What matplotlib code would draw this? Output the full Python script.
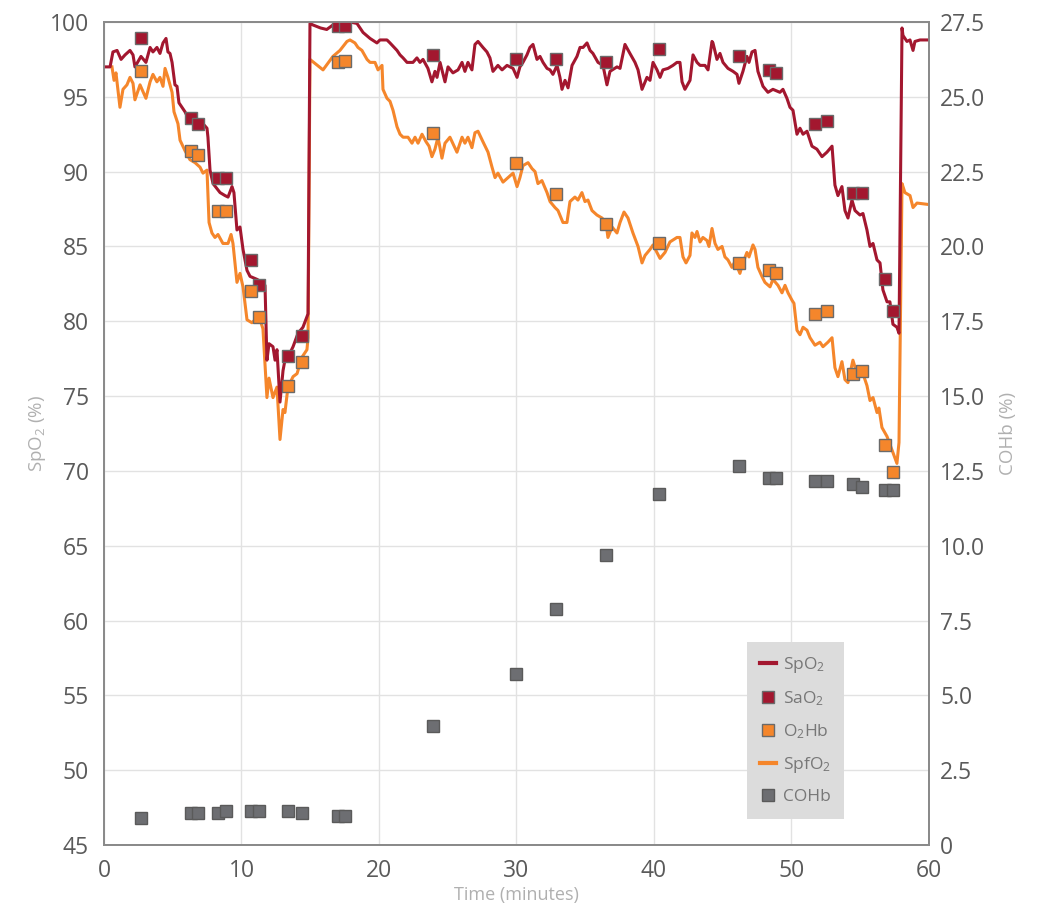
import matplotlib
matplotlib.use("Agg")
import matplotlib.pyplot as plt
from matplotlib.lines import Line2D
import numpy as np

plt.rcParams["font.family"] = ["Open Sans", "DejaVu Sans"]
plt.rcParams["mathtext.fontset"] = "custom"
plt.rcParams["mathtext.rm"] = "Open Sans"

# continuous monitor traces: (time in minutes, %)
spo2 = [
    (0, 97.0), (0.44, 97.0), (0.65, 98.0), (0.95, 98.1), (1.24, 97.5), (1.53, 97.8),
    (1.89, 98.1), (2.11, 97.8), (2.25, 97.0), (2.69, 97.7), (3.05, 97.3), (3.35, 98.3),
    (3.56, 98.0), (3.85, 98.3), (4.07, 97.9), (4.29, 98.6), (4.51, 98.9), (4.65, 98.0),
    (4.8, 97.9), (4.95, 97.3), (5.16, 95.8), (5.31, 95.7), (5.45, 94.6), (5.67, 94.3),
    (5.89, 94.0), (6.11, 93.6), (6.47, 93.4), (7.2, 93.2), (7.49, 92.9), (7.56, 92.3),
    (7.71, 90.1), (7.93, 89.2), (8.44, 88.6), (8.8, 88.4), (9.02, 88.3), (9.31, 89.0),
    (9.45, 88.6), (9.67, 86.1), (9.89, 86.3), (10.11, 84.8), (10.4, 83.4), (10.62, 83.0),
    (11.13, 82.8), (11.49, 82.6), (11.71, 82.4), (11.85, 77.4), (12.0, 78.5), (12.29, 78.3),
    (12.44, 77.4), (12.58, 78.1), (12.8, 74.6), (13.02, 76.7), (13.16, 77.4), (13.38, 77.6),
    (13.75, 78.3), (14.11, 79.2), (14.47, 79.6), (14.84, 80.5), (14.98, 99.9), (15.2, 99.8),
    (15.75, 99.6), (16.2, 99.5), (16.65, 99.8), (17.3, 99.9), (17.9, 100.0), (18.4, 99.9),
    (18.84, 99.3), (19.35, 98.9), (19.85, 98.6), (20.07, 98.8), (20.58, 98.8), (20.8, 98.6),
    (21.31, 98.1), (21.53, 97.8), (21.75, 97.6), (22.04, 97.3), (22.25, 97.3), (22.47, 97.3),
    (22.76, 97.6), (22.98, 97.3), (23.2, 97.5), (23.56, 96.9), (23.85, 96.0), (24.07, 96.7),
    (24.22, 96.3), (24.44, 97.3), (24.8, 96.0), (25.02, 97.0), (25.38, 96.6), (25.75, 96.8),
    (26.04, 97.3), (26.25, 96.7), (26.47, 97.3), (26.76, 96.8), (26.98, 98.5), (27.2, 98.7),
    (27.56, 98.3), (27.85, 98.0), (28.07, 97.6), (28.29, 96.7), (28.65, 97.1), (28.95, 96.8),
    (29.31, 97.1), (29.75, 96.9), (30.04, 96.3), (30.25, 97.0), (30.47, 97.3), (30.76, 97.8),
    (30.98, 98.3), (31.2, 98.5), (31.49, 97.5), (31.71, 97.7), (31.93, 97.3), (32.22, 96.9),
    (32.44, 96.8), (32.65, 96.5), (32.95, 97.1), (33.16, 96.3), (33.31, 95.5), (33.53, 96.1),
    (33.75, 95.6), (34.04, 97.1), (34.4, 97.7), (34.62, 98.3), (34.84, 98.3), (35.13, 98.6),
    (35.35, 98.1), (35.56, 97.9), (35.93, 97.3), (36.29, 97.1), (36.58, 95.8), (36.8, 96.7),
    (37.31, 97.0), (37.53, 96.9), (37.89, 98.5), (38.25, 97.9), (38.62, 97.3), (38.84, 96.8),
    (39.13, 95.5), (39.49, 96.3), (39.71, 96.1), (39.93, 97.3), (40.22, 96.8), (40.44, 96.3),
    (40.65, 96.8), (41.02, 96.9), (41.38, 97.1), (41.67, 97.3), (41.89, 97.3), (42.04, 96.0),
    (42.25, 95.5), (42.62, 96.1), (42.84, 97.8), (43.13, 97.3), (43.35, 97.1), (43.71, 97.1),
    (43.93, 96.8), (44.22, 98.7), (44.29, 98.6), (44.58, 97.5), (44.8, 97.9), (45.02, 97.3),
    (45.38, 96.9), (45.75, 96.7), (46.04, 96.5), (46.18, 95.9), (46.47, 96.7), (46.76, 97.7),
    (46.91, 97.3), (47.13, 98.0), (47.35, 98.1), (47.56, 96.7), (47.93, 95.7), (48.29, 95.3),
    (48.65, 95.5), (49.16, 95.3), (49.38, 95.5), (49.67, 94.9), (49.89, 94.3), (50.11, 94.1),
    (50.4, 92.5), (50.62, 92.9), (50.84, 92.5), (51.13, 92.7), (51.49, 91.7), (51.85, 91.5),
    (52.22, 91.0), (52.58, 91.3), (52.95, 91.7), (53.16, 89.1), (53.38, 88.4), (53.67, 89.0),
    (53.89, 87.4), (54.11, 86.9), (54.4, 88.1), (54.62, 87.4), (54.98, 87.1), (55.2, 87.2),
    (55.49, 86.1), (55.71, 85.0), (55.93, 85.2), (56.22, 84.1), (56.44, 83.9), (56.65, 82.1),
    (56.95, 81.3), (57.16, 81.3), (57.38, 79.8), (57.67, 79.6), (57.82, 79.2), (58.04, 99.6),
    (58.11, 99.1), (58.4, 98.7), (58.62, 98.8), (58.84, 98.1), (58.98, 98.7), (59.35, 98.8),
    (60.0, 98.8),
]

spfo2 = [
    (0.58, 97.0), (0.73, 96.1), (0.87, 96.6), (1.16, 94.3), (1.38, 95.5), (1.67, 95.8),
    (1.89, 96.3), (2.11, 95.9), (2.25, 94.8), (2.62, 95.8), (3.05, 94.9), (3.35, 96.0),
    (3.56, 96.5), (3.85, 96.0), (4.07, 96.3), (4.29, 95.7), (4.44, 96.9), (4.65, 96.3),
    (4.95, 95.3), (5.09, 94.0), (5.38, 93.2), (5.53, 92.1), (5.89, 91.4), (6.25, 90.8),
    (6.62, 90.6), (6.98, 90.3), (7.2, 89.9), (7.49, 90.1), (7.64, 86.6), (7.85, 85.9),
    (8.07, 85.6), (8.29, 85.8), (8.65, 85.2), (9.02, 85.2), (9.24, 85.8), (9.38, 85.2),
    (9.67, 82.6), (9.89, 83.2), (10.11, 82.3), (10.4, 80.1), (10.76, 79.9), (10.98, 80.1),
    (11.35, 80.1), (11.56, 79.5), (11.85, 74.9), (12.0, 76.2), (12.29, 74.9), (12.58, 75.6),
    (12.8, 72.1), (13.02, 74.1), (13.16, 73.9), (13.38, 75.6), (13.75, 76.3), (14.04, 76.5),
    (14.4, 77.6), (14.76, 78.1), (14.84, 78.9), (14.98, 97.5), (15.93, 96.8), (16.65, 97.7),
    (17.16, 98.1), (17.67, 98.7), (17.89, 98.8), (18.25, 98.6), (18.47, 98.3), (18.76, 98.1),
    (19.13, 97.5), (19.35, 97.3), (19.71, 97.3), (19.93, 96.8), (20.22, 97.1), (20.29, 95.5),
    (20.58, 94.9), (20.8, 94.7), (21.02, 94.1), (21.31, 93.0), (21.53, 92.5), (21.75, 92.3),
    (22.11, 92.3), (22.4, 91.9), (22.62, 92.3), (22.84, 91.9), (23.13, 92.5), (23.42, 92.0),
    (23.64, 91.7), (23.85, 91.0), (24.07, 91.5), (24.29, 92.3), (24.58, 90.9), (24.8, 91.9),
    (25.16, 92.3), (25.67, 91.3), (26.04, 92.3), (26.25, 91.9), (26.47, 92.3), (26.76, 91.6),
    (26.98, 92.6), (27.2, 92.7), (27.56, 92.0), (27.93, 91.3), (28.22, 90.3), (28.44, 89.6),
    (28.65, 89.9), (29.02, 89.3), (29.38, 89.6), (29.75, 89.9), (30.04, 89.0), (30.25, 89.6),
    (30.47, 90.4), (30.84, 90.6), (31.13, 90.2), (31.35, 90.0), (31.56, 89.2), (31.85, 89.4),
    (32.22, 88.6), (32.44, 88.0), (32.8, 87.6), (33.02, 87.4), (33.38, 86.6), (33.67, 86.6),
    (33.89, 88.0), (34.25, 88.3), (34.47, 88.1), (34.76, 88.6), (34.98, 88.0), (35.2, 88.1),
    (35.49, 87.4), (35.85, 87.1), (36.22, 86.9), (36.51, 86.6), (36.65, 85.6), (36.95, 86.3),
    (37.31, 85.9), (37.53, 86.6), (37.82, 87.3), (38.11, 86.9), (38.47, 85.9), (38.84, 85.0),
    (39.13, 83.9), (39.35, 84.4), (39.71, 84.8), (39.93, 85.1), (40.44, 84.2), (40.8, 84.6),
    (41.16, 85.3), (41.67, 85.6), (41.89, 85.6), (42.11, 84.3), (42.33, 83.9), (42.62, 84.4),
    (42.76, 85.9), (42.98, 85.6), (43.13, 86.0), (43.35, 85.3), (43.56, 85.6), (43.85, 85.4),
    (44.0, 85.0), (44.22, 86.2), (44.44, 85.2), (44.65, 84.8), (44.95, 85.0), (45.16, 84.3),
    (45.38, 84.1), (45.67, 83.6), (45.89, 84.0), (46.25, 83.2), (46.47, 83.9), (46.76, 84.6),
    (46.91, 84.3), (47.2, 85.1), (47.35, 84.8), (47.56, 83.6), (47.85, 83.0), (48.07, 82.6),
    (48.44, 82.3), (48.65, 82.8), (49.02, 82.4), (49.31, 81.9), (49.53, 82.4), (49.75, 81.9),
    (50.04, 81.4), (50.18, 81.2), (50.4, 79.4), (50.62, 79.1), (50.84, 79.6), (51.13, 79.4),
    (51.35, 78.9), (51.71, 78.4), (52.07, 78.6), (52.29, 78.3), (52.65, 78.6), (52.95, 78.9),
    (53.16, 76.9), (53.38, 76.3), (53.67, 77.3), (53.89, 76.1), (54.11, 75.9), (54.47, 77.4),
    (54.76, 76.5), (54.98, 76.6), (55.2, 76.5), (55.49, 75.7), (55.71, 74.7), (55.93, 74.9),
    (56.22, 73.9), (56.36, 74.2), (56.58, 72.9), (56.95, 72.3), (57.31, 71.4), (57.67, 70.5),
    (57.82, 71.9), (58.04, 89.2), (58.25, 88.6), (58.62, 88.4), (58.84, 87.6), (59.13, 87.9),
    (60.0, 87.8),
]

# blood samples
sample_t = [2.7, 6.3, 6.8, 8.3, 8.9, 10.7, 11.3, 13.4, 14.4, 17.0, 17.5, 23.9, 30.0,
            32.9, 36.5, 40.4, 46.2, 48.4, 48.9, 51.7, 52.6, 54.5, 55.1, 56.8, 57.4]
sao2 = [98.9, 93.6, 93.2, 89.6, 89.6, 84.1, 82.4, 77.7, 79.0, 99.7, 99.7, 97.8, 97.5,
        97.5, 97.3, 98.2, 97.7, 96.8, 96.6, 93.2, 93.4, 88.6, 88.6, 82.8, 80.7]
o2hb = [96.7, 91.4, 91.1, 87.4, 87.4, 82.0, 80.3, 75.7, 77.3, 97.3, 97.4, 92.6, 90.6,
        88.5, 86.5, 85.2, 83.9, 83.4, 83.2, 80.5, 80.7, 76.5, 76.7, 71.7, 69.9]
cohb = [0.90, 1.07, 1.07, 1.07, 1.14, 1.14, 1.14, 1.14, 1.07, 0.97, 0.97, 3.98, 5.71,
        7.88, 9.69, 11.73, 12.66, 12.26, 12.26, 12.16, 12.16, 12.06, 11.96, 11.86, 11.86]

red = "#a3172f"
orange = "#f5862b"
grey_sq = "#6d6e72"
edge = "#6a6a6a"

fig = plt.figure(figsize=(10.39, 9.05), dpi=100)
ax = fig.add_axes([0.1001, 0.0663, 0.794, 0.9094])
ax2 = ax.twinx()

spo2 = np.array(spo2)
spfo2 = np.array(spfo2)

ax.plot(spfo2[:, 0], spfo2[:, 1], color=orange, lw=2.2, zorder=3)
ax.plot(spo2[:, 0], spo2[:, 1], color=red, lw=2.2, zorder=4)
ax.plot(sample_t, sao2, "s", color=red, mec=edge, mew=1, ms=8, zorder=5)
ax.plot(sample_t, o2hb, "s", color=orange, mec=edge, mew=1, ms=8, zorder=5)
ax2.plot(sample_t, cohb, "s", color=grey_sq, mec="#5a5a5a", mew=1, ms=8, zorder=5)

ax.set_xlim(0, 60)
ax.set_ylim(45, 100)
ax2.set_ylim(0, 27.5)
ax.set_xticks(range(0, 61, 10))
ax.set_yticks(range(45, 101, 5))
r_ticks = np.arange(0, 27.6, 2.5)
ax2.set_yticks(r_ticks)
ax2.set_yticklabels(["0" if v == 0 else f"{v:.1f}" for v in r_ticks])

ax.grid(True, color="#e2e2e2", lw=1)
ax.set_axisbelow(True)

for a in (ax, ax2):
    for s in a.spines.values():
        s.set_color("#8a8a8a")
        s.set_linewidth(1.3)
    a.tick_params(labelcolor="#5a5a5a", labelsize=16.5, length=0)
ax.tick_params(axis="y", pad=11)
ax.tick_params(axis="x", pad=10)
ax2.tick_params(axis="y", pad=8)

ax.set_xlabel("Time (minutes)", color="#b0b0b0", fontsize=13, labelpad=2)
ax.set_ylabel(r"SpO$\mathregular{_2}$ (%)", color="#b0b0b0", fontsize=13.5, labelpad=1)
ax2.set_ylabel("COHb (%)", color="#b0b0b0", fontsize=13.5, labelpad=10)

handles = [
    Line2D([], [], color=red, lw=3),
    Line2D([], [], marker="s", ls="none", color=red, mec=edge, mew=1, ms=8),
    Line2D([], [], marker="s", ls="none", color=orange, mec=edge, mew=1, ms=8),
    Line2D([], [], color=orange, lw=3),
    Line2D([], [], marker="s", ls="none", color=grey_sq, mec="#5a5a5a", mew=1, ms=8),
]
labels = [r"SpO$\mathregular{_2}$", r"SaO$\mathregular{_2}$", r"O$\mathregular{_2}$Hb",
          r"SpfO$\mathregular{_2}$", "COHb"]
leg = ax2.legend(handles, labels, loc="upper left", bbox_to_anchor=(0.7794, 0.2467),
                 frameon=True, fancybox=False, facecolor="#dcdcdc", edgecolor="none",
                 framealpha=1, fontsize=12.5, labelcolor="#777777", handlelength=0.9,
                 handletextpad=0.4, labelspacing=0.82, borderpad=0.75, borderaxespad=0)
leg.set_zorder(10)

fig.savefig("out.png", dpi=100)
